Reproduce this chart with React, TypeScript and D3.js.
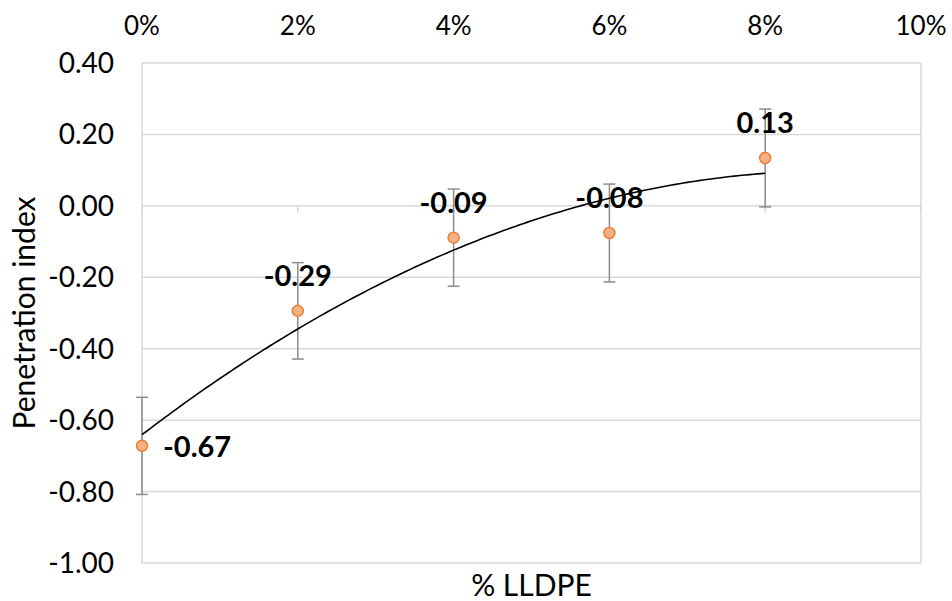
import React from "react";
import * as d3 from "d3";

const lldpe = [0, 0.02, 0.04, 0.06, 0.08];
const penetration = [-0.672, -0.294, -0.089, -0.076, 0.134];
const errors = [0.136, 0.135, 0.136, 0.137, 0.137];
const xTicks = [0, 0.02, 0.04, 0.06, 0.08, 0.1];
const yTicks = [0.4, 0.2, 0, -0.2, -0.4, -0.6, -0.8, -1.0];

const width = 952;
const height = 601;
const margin = { top: 63, right: 31, bottom: 38, left: 142 };
const font = "Lato, 'DejaVu Sans', sans-serif";

// least squares fit of y = a + b x + c x^2 (polynomial trendline)
function quadFit(xs: number[], ys: number[]) {
  const n = xs.length;
  let s1 = 0, s2 = 0, s3 = 0, s4 = 0, t0 = 0, t1 = 0, t2 = 0;
  for (let i = 0; i < n; i++) {
    const x = xs[i], y = ys[i];
    s1 += x; s2 += x * x; s3 += x * x * x; s4 += x * x * x * x;
    t0 += y; t1 += x * y; t2 += x * x * y;
  }
  const m = [
    [n, s1, s2, t0],
    [s1, s2, s3, t1],
    [s2, s3, s4, t2],
  ];
  for (let i = 0; i < 3; i++) {
    for (let k = i + 1; k < 3; k++) {
      const f = m[k][i] / m[i][i];
      for (let j = i; j < 4; j++) m[k][j] -= f * m[i][j];
    }
  }
  const c = m[2][3] / m[2][2];
  const b = (m[1][3] - m[1][2] * c) / m[1][1];
  const a = (m[0][3] - m[0][1] * b - m[0][2] * c) / m[0][0];
  return (x: number) => a + b * x + c * x * x;
}

export default function App() {
  const x = d3
    .scaleLinear()
    .domain([0, 0.1])
    .range([margin.left, width - margin.right]);
  const y = d3
    .scaleLinear()
    .domain([-1, 0.4])
    .range([height - margin.bottom, margin.top]);

  const fit = quadFit(lldpe, penetration);
  const trendX = d3.range(0, 0.08 + 1e-9, 0.0005);
  const trend = d3
    .line<number>()
    .x((d) => x(d))
    .y((d) => y(fit(d)))(trendX);

  const grid = "#d9d9d9";
  const errColor = "#8c8c8c";

  return (
    <svg
      width={width}
      height={height}
      style={{ position: "absolute", left: 0, top: 0, background: "#fff" }}
      fontFamily={font}
    >
      {/* horizontal gridlines */}
      {yTicks.map((t) => (
        <line
          key={"g" + t}
          x1={x(0)}
          x2={x(0.1)}
          y1={y(t)}
          y2={y(t)}
          stroke={grid}
          strokeWidth={1.5}
        />
      ))}
      {/* left axis + right border */}
      <line x1={x(0)} x2={x(0)} y1={y(0.4)} y2={y(-1)} stroke={grid} strokeWidth={1.5} />
      <line x1={x(0.1)} x2={x(0.1)} y1={y(0.4)} y2={y(-1)} stroke={grid} strokeWidth={1.5} />
      {/* x-axis tick marks at y = 0 */}
      {xTicks.map((t) => (
        <line
          key={"xt" + t}
          x1={x(t)}
          x2={x(t)}
          y1={y(0)}
          y2={y(0) + 7}
          stroke={grid}
          strokeWidth={1.5}
        />
      ))}

      {/* y tick labels */}
      {yTicks.map((t) => (
        <text
          key={"yl" + t}
          x={114}
          y={y(t) + 10}
          textAnchor="end"
          fontSize={28}
          fill="#000"
        >
          {t.toFixed(2)}
        </text>
      ))}
      {/* x tick labels on top */}
      {xTicks.map((t) => (
        <text
          key={"xl" + t}
          x={x(t)}
          y={35}
          textAnchor="middle"
          fontSize={26}
          fill="#000"
        >
          {Math.round(t * 100) + "%"}
        </text>
      ))}

      {/* error bars */}
      {lldpe.map((d, i) => {
        const cx = x(d);
        const top = y(penetration[i] + errors[i]);
        const bot = y(penetration[i] - errors[i]);
        return (
          <g key={"e" + i} stroke={errColor} strokeWidth={1.5}>
            <line x1={cx} x2={cx} y1={top} y2={bot} />
            <line x1={cx - 6} x2={cx + 6} y1={top} y2={top} />
            <line x1={cx - 6} x2={cx + 6} y1={bot} y2={bot} />
          </g>
        );
      })}

      {/* trendline */}
      <path d={trend ?? ""} fill="none" stroke="#000" strokeWidth={1.6} />

      {/* markers */}
      {lldpe.map((d, i) => (
        <circle
          key={"m" + i}
          cx={x(d)}
          cy={y(penetration[i])}
          r={5.5}
          fill="#f4b183"
          stroke="#ed7d31"
          strokeWidth={1.5}
        />
      ))}

      {/* data labels */}
      {lldpe.map((d, i) => {
        const first = i === 0;
        return (
          <text
            key={"dl" + i}
            x={first ? x(d) + 21 : x(d)}
            y={first ? y(penetration[i]) + 11 : y(penetration[i]) - 25}
            textAnchor={first ? "start" : "middle"}
            fontSize={29}
            fontWeight="bold"
            fill="#000"
          >
            {penetration[i].toFixed(2)}
          </text>
        );
      })}

      {/* axis titles */}
      <text
        x={(x(0) + x(0.1)) / 2}
        y={596}
        textAnchor="middle"
        fontSize={30}
        fill="#000"
      >
        % LLDPE
      </text>
      <text
        transform={`translate(35, ${(y(0.4) + y(-1)) / 2}) rotate(-90)`}
        textAnchor="middle"
        fontSize={30}
        fill="#000"
      >
        Penetration index
      </text>
    </svg>
  );
}
